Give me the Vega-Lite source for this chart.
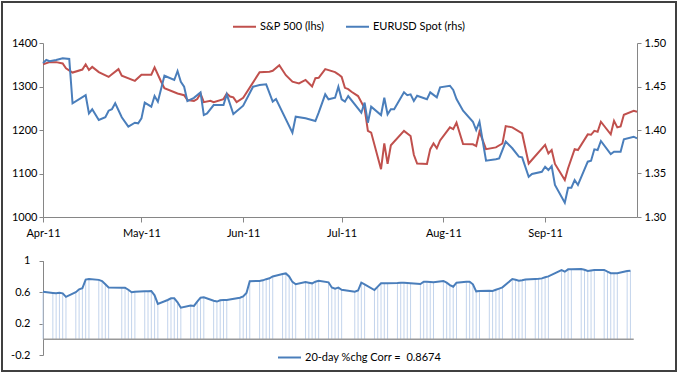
{
  "$schema": "https://vega.github.io/schema/vega-lite/v6.json",
  "width": 674,
  "height": 369,
  "autosize": "none",
  "padding": {"left": 2, "top": 2, "right": 4, "bottom": 4},
  "background": "white",
  "config": {
    "view": {"stroke": "#404040", "strokeWidth": 2, "fill": "white"},
    "axis": {"labelFont": "Lato", "labelFontSize": 11, "labelColor": "#000000", "domainColor": "#868686", "tickColor": "#868686", "grid": false},
    "legend": {"labelFont": "Lato", "labelFontSize": 11, "labelColor": "#000000"},
    "line": {"strokeWidth": 2}
  },
  "datasets": {
    "spx": [
      {"date": "2011-04-01", "spx": 1351}, {"date": "2011-04-03", "spx": 1356}, {"date": "2011-04-05", "spx": 1356}, {"date": "2011-04-07", "spx": 1353}, {"date": "2011-04-08", "spx": 1342}, {"date": "2011-04-10", "spx": 1332}, {"date": "2011-04-13", "spx": 1339}, {"date": "2011-04-14", "spx": 1351}, {"date": "2011-04-15", "spx": 1338}, {"date": "2011-04-16", "spx": 1345}, {"date": "2011-04-18", "spx": 1333}, {"date": "2011-04-21", "spx": 1322}, {"date": "2011-04-22", "spx": 1328}, {"date": "2011-04-24", "spx": 1340}, {"date": "2011-04-25", "spx": 1325}, {"date": "2011-04-29", "spx": 1313},
      {"date": "2011-05-01", "spx": 1327}, {"date": "2011-05-04", "spx": 1327}, {"date": "2011-05-05", "spx": 1344}, {"date": "2011-05-07", "spx": 1311}, {"date": "2011-05-08", "spx": 1296}, {"date": "2011-05-12", "spx": 1284}, {"date": "2011-05-14", "spx": 1280}, {"date": "2011-05-15", "spx": 1269}, {"date": "2011-05-17", "spx": 1267}, {"date": "2011-05-18", "spx": 1271}, {"date": "2011-05-19", "spx": 1284}, {"date": "2011-05-20", "spx": 1264}, {"date": "2011-05-22", "spx": 1267}, {"date": "2011-05-23", "spx": 1264}, {"date": "2011-05-26", "spx": 1271}, {"date": "2011-05-27", "spx": 1284}, {"date": "2011-05-28", "spx": 1277}, {"date": "2011-05-29", "spx": 1275}, {"date": "2011-05-30", "spx": 1264},
      {"date": "2011-06-01", "spx": 1274}, {"date": "2011-06-06", "spx": 1333}, {"date": "2011-06-09", "spx": 1334}, {"date": "2011-06-10", "spx": 1336}, {"date": "2011-06-12", "spx": 1349}, {"date": "2011-06-14", "spx": 1326}, {"date": "2011-06-16", "spx": 1311}, {"date": "2011-06-18", "spx": 1307}, {"date": "2011-06-20", "spx": 1315}, {"date": "2011-06-22", "spx": 1300}, {"date": "2011-06-23", "spx": 1319}, {"date": "2011-06-24", "spx": 1320}, {"date": "2011-06-26", "spx": 1340}, {"date": "2011-06-29", "spx": 1333}, {"date": "2011-06-30", "spx": 1328},
      {"date": "2011-07-01", "spx": 1322}, {"date": "2011-07-02", "spx": 1297}, {"date": "2011-07-03", "spx": 1294}, {"date": "2011-07-04", "spx": 1288}, {"date": "2011-07-06", "spx": 1278}, {"date": "2011-07-08", "spx": 1250}, {"date": "2011-07-09", "spx": 1198}, {"date": "2011-07-10", "spx": 1194}, {"date": "2011-07-13", "spx": 1110}, {"date": "2011-07-14", "spx": 1169}, {"date": "2011-07-15", "spx": 1122}, {"date": "2011-07-16", "spx": 1165}, {"date": "2011-07-20", "spx": 1198}, {"date": "2011-07-22", "spx": 1186}, {"date": "2011-07-23", "spx": 1143}, {"date": "2011-07-24", "spx": 1123}, {"date": "2011-07-27", "spx": 1122}, {"date": "2011-07-28", "spx": 1156}, {"date": "2011-07-29", "spx": 1169}, {"date": "2011-07-30", "spx": 1158}, {"date": "2011-07-31", "spx": 1176},
      {"date": "2011-08-03", "spx": 1206}, {"date": "2011-08-04", "spx": 1202}, {"date": "2011-08-05", "spx": 1217}, {"date": "2011-08-07", "spx": 1168}, {"date": "2011-08-10", "spx": 1167}, {"date": "2011-08-11", "spx": 1163}, {"date": "2011-08-12", "spx": 1196}, {"date": "2011-08-14", "spx": 1156}, {"date": "2011-08-17", "spx": 1160}, {"date": "2011-08-19", "spx": 1169}, {"date": "2011-08-20", "spx": 1209}, {"date": "2011-08-22", "spx": 1206}, {"date": "2011-08-25", "spx": 1192}, {"date": "2011-08-27", "spx": 1123},
      {"date": "2011-09-01", "spx": 1166}, {"date": "2011-09-02", "spx": 1146}, {"date": "2011-09-03", "spx": 1154}, {"date": "2011-09-04", "spx": 1122}, {"date": "2011-09-07", "spx": 1085}, {"date": "2011-09-08", "spx": 1112}, {"date": "2011-09-10", "spx": 1156}, {"date": "2011-09-11", "spx": 1154}, {"date": "2011-09-14", "spx": 1190}, {"date": "2011-09-15", "spx": 1189}, {"date": "2011-09-16", "spx": 1198}, {"date": "2011-09-17", "spx": 1196}, {"date": "2011-09-18", "spx": 1219}, {"date": "2011-09-21", "spx": 1190}, {"date": "2011-09-22", "spx": 1221}, {"date": "2011-09-23", "spx": 1206}, {"date": "2011-09-24", "spx": 1208}, {"date": "2011-09-25", "spx": 1235}, {"date": "2011-09-28", "spx": 1244}, {"date": "2011-09-29", "spx": 1242}
    ],
    "eur": [
      {"date": "2011-04-01", "eur": 1.477}, {"date": "2011-04-02", "eur": 1.4805}, {"date": "2011-04-03", "eur": 1.479}, {"date": "2011-04-05", "eur": 1.4805}, {"date": "2011-04-07", "eur": 1.4824}, {"date": "2011-04-09", "eur": 1.4816}, {"date": "2011-04-10", "eur": 1.4307}, {"date": "2011-04-14", "eur": 1.44}, {"date": "2011-04-15", "eur": 1.419}, {"date": "2011-04-16", "eur": 1.4238}, {"date": "2011-04-18", "eur": 1.4115}, {"date": "2011-04-20", "eur": 1.4146}, {"date": "2011-04-21", "eur": 1.4222}, {"date": "2011-04-22", "eur": 1.4238}, {"date": "2011-04-23", "eur": 1.4307}, {"date": "2011-04-25", "eur": 1.4146}, {"date": "2011-04-27", "eur": 1.4038}, {"date": "2011-04-29", "eur": 1.4084}, {"date": "2011-04-30", "eur": 1.4077},
      {"date": "2011-05-01", "eur": 1.4134}, {"date": "2011-05-02", "eur": 1.4314}, {"date": "2011-05-04", "eur": 1.4268}, {"date": "2011-05-05", "eur": 1.439}, {"date": "2011-05-06", "eur": 1.4326}, {"date": "2011-05-08", "eur": 1.4624}, {"date": "2011-05-11", "eur": 1.4575}, {"date": "2011-05-12", "eur": 1.4678}, {"date": "2011-05-13", "eur": 1.4555}, {"date": "2011-05-14", "eur": 1.4498}, {"date": "2011-05-15", "eur": 1.4333}, {"date": "2011-05-17", "eur": 1.437}, {"date": "2011-05-19", "eur": 1.4433}, {"date": "2011-05-20", "eur": 1.4172}, {"date": "2011-05-21", "eur": 1.419}, {"date": "2011-05-23", "eur": 1.4287}, {"date": "2011-05-26", "eur": 1.4287}, {"date": "2011-05-27", "eur": 1.441}, {"date": "2011-05-29", "eur": 1.4184},
      {"date": "2011-06-01", "eur": 1.428}, {"date": "2011-06-04", "eur": 1.4498}, {"date": "2011-06-06", "eur": 1.4517}, {"date": "2011-06-08", "eur": 1.4525}, {"date": "2011-06-10", "eur": 1.4326}, {"date": "2011-06-11", "eur": 1.4356}, {"date": "2011-06-16", "eur": 1.3969}, {"date": "2011-06-17", "eur": 1.4153}, {"date": "2011-06-20", "eur": 1.4134}, {"date": "2011-06-23", "eur": 1.4103}, {"date": "2011-06-24", "eur": 1.4199}, {"date": "2011-06-26", "eur": 1.441}, {"date": "2011-06-27", "eur": 1.4353}, {"date": "2011-06-29", "eur": 1.4371}, {"date": "2011-06-30", "eur": 1.4498},
      {"date": "2011-07-01", "eur": 1.4353}, {"date": "2011-07-02", "eur": 1.4326}, {"date": "2011-07-03", "eur": 1.439}, {"date": "2011-07-07", "eur": 1.4199}, {"date": "2011-07-08", "eur": 1.4314}, {"date": "2011-07-09", "eur": 1.4084}, {"date": "2011-07-10", "eur": 1.4268}, {"date": "2011-07-13", "eur": 1.4172}, {"date": "2011-07-14", "eur": 1.4371}, {"date": "2011-07-15", "eur": 1.418}, {"date": "2011-07-16", "eur": 1.4238}, {"date": "2011-07-17", "eur": 1.4238}, {"date": "2011-07-20", "eur": 1.4433}, {"date": "2011-07-21", "eur": 1.44}, {"date": "2011-07-22", "eur": 1.441}, {"date": "2011-07-23", "eur": 1.4333}, {"date": "2011-07-24", "eur": 1.4394}, {"date": "2011-07-27", "eur": 1.4353}, {"date": "2011-07-28", "eur": 1.4433}, {"date": "2011-07-30", "eur": 1.4376}, {"date": "2011-07-31", "eur": 1.449},
      {"date": "2011-08-03", "eur": 1.4509}, {"date": "2011-08-04", "eur": 1.446}, {"date": "2011-08-05", "eur": 1.4356}, {"date": "2011-08-07", "eur": 1.4222}, {"date": "2011-08-10", "eur": 1.4095}, {"date": "2011-08-11", "eur": 1.4}, {"date": "2011-08-12", "eur": 1.4095}, {"date": "2011-08-14", "eur": 1.3647}, {"date": "2011-08-17", "eur": 1.3663}, {"date": "2011-08-18", "eur": 1.3674}, {"date": "2011-08-20", "eur": 1.3866}, {"date": "2011-08-22", "eur": 1.379}, {"date": "2011-08-24", "eur": 1.3693}, {"date": "2011-08-25", "eur": 1.3686}, {"date": "2011-08-27", "eur": 1.3463}, {"date": "2011-08-28", "eur": 1.3494}, {"date": "2011-08-31", "eur": 1.352},
      {"date": "2011-09-01", "eur": 1.3578}, {"date": "2011-09-02", "eur": 1.354}, {"date": "2011-09-03", "eur": 1.3586}, {"date": "2011-09-04", "eur": 1.3368}, {"date": "2011-09-07", "eur": 1.3164}, {"date": "2011-09-08", "eur": 1.3337}, {"date": "2011-09-09", "eur": 1.3337}, {"date": "2011-09-10", "eur": 1.3425}, {"date": "2011-09-11", "eur": 1.3368}, {"date": "2011-09-14", "eur": 1.3636}, {"date": "2011-09-15", "eur": 1.3647}, {"date": "2011-09-16", "eur": 1.3778}, {"date": "2011-09-17", "eur": 1.377}, {"date": "2011-09-18", "eur": 1.3874}, {"date": "2011-09-21", "eur": 1.3724}, {"date": "2011-09-22", "eur": 1.375}, {"date": "2011-09-24", "eur": 1.375}, {"date": "2011-09-25", "eur": 1.3893}, {"date": "2011-09-28", "eur": 1.3923}, {"date": "2011-09-29", "eur": 1.3904}
    ],
    "corr": [
      {"date": "2011-04-01", "corr": 0.606}, {"date": "2011-04-04", "corr": 0.59}, {"date": "2011-04-05", "corr": 0.585}, {"date": "2011-04-06", "corr": 0.593}, {"date": "2011-04-07", "corr": 0.585}, {"date": "2011-04-08", "corr": 0.54}, {"date": "2011-04-11", "corr": 0.6}, {"date": "2011-04-12", "corr": 0.636}, {"date": "2011-04-13", "corr": 0.649}, {"date": "2011-04-14", "corr": 0.76}, {"date": "2011-04-15", "corr": 0.767}, {"date": "2011-04-18", "corr": 0.756}, {"date": "2011-04-19", "corr": 0.74}, {"date": "2011-04-20", "corr": 0.7}, {"date": "2011-04-21", "corr": 0.66}, {"date": "2011-04-25", "corr": 0.655}, {"date": "2011-04-26", "corr": 0.657}, {"date": "2011-04-27", "corr": 0.63}, {"date": "2011-04-28", "corr": 0.598}, {"date": "2011-04-29", "corr": 0.606},
      {"date": "2011-05-02", "corr": 0.61}, {"date": "2011-05-03", "corr": 0.612}, {"date": "2011-05-04", "corr": 0.615}, {"date": "2011-05-05", "corr": 0.56}, {"date": "2011-05-06", "corr": 0.45}, {"date": "2011-05-09", "corr": 0.5}, {"date": "2011-05-10", "corr": 0.521}, {"date": "2011-05-11", "corr": 0.521}, {"date": "2011-05-12", "corr": 0.47}, {"date": "2011-05-13", "corr": 0.402}, {"date": "2011-05-16", "corr": 0.43}, {"date": "2011-05-17", "corr": 0.424}, {"date": "2011-05-18", "corr": 0.48}, {"date": "2011-05-19", "corr": 0.53}, {"date": "2011-05-20", "corr": 0.535}, {"date": "2011-05-23", "corr": 0.49}, {"date": "2011-05-24", "corr": 0.48}, {"date": "2011-05-25", "corr": 0.497}, {"date": "2011-05-26", "corr": 0.5}, {"date": "2011-05-27", "corr": 0.5}, {"date": "2011-05-31", "corr": 0.529},
      {"date": "2011-06-01", "corr": 0.545}, {"date": "2011-06-02", "corr": 0.59}, {"date": "2011-06-03", "corr": 0.74}, {"date": "2011-06-06", "corr": 0.742}, {"date": "2011-06-07", "corr": 0.75}, {"date": "2011-06-08", "corr": 0.765}, {"date": "2011-06-09", "corr": 0.776}, {"date": "2011-06-10", "corr": 0.8}, {"date": "2011-06-13", "corr": 0.83}, {"date": "2011-06-14", "corr": 0.838}, {"date": "2011-06-15", "corr": 0.8}, {"date": "2011-06-16", "corr": 0.73}, {"date": "2011-06-17", "corr": 0.7}, {"date": "2011-06-20", "corr": 0.728}, {"date": "2011-06-21", "corr": 0.72}, {"date": "2011-06-22", "corr": 0.712}, {"date": "2011-06-23", "corr": 0.733}, {"date": "2011-06-24", "corr": 0.745}, {"date": "2011-06-27", "corr": 0.725}, {"date": "2011-06-28", "corr": 0.66}, {"date": "2011-06-29", "corr": 0.645}, {"date": "2011-06-30", "corr": 0.657},
      {"date": "2011-07-01", "corr": 0.63}, {"date": "2011-07-05", "corr": 0.605}, {"date": "2011-07-06", "corr": 0.62}, {"date": "2011-07-07", "corr": 0.72}, {"date": "2011-07-08", "corr": 0.7}, {"date": "2011-07-11", "corr": 0.627}, {"date": "2011-07-12", "corr": 0.67}, {"date": "2011-07-13", "corr": 0.712}, {"date": "2011-07-14", "corr": 0.713}, {"date": "2011-07-15", "corr": 0.714}, {"date": "2011-07-18", "corr": 0.716}, {"date": "2011-07-19", "corr": 0.72}, {"date": "2011-07-20", "corr": 0.718}, {"date": "2011-07-21", "corr": 0.716}, {"date": "2011-07-22", "corr": 0.714}, {"date": "2011-07-25", "corr": 0.704}, {"date": "2011-07-26", "corr": 0.733}, {"date": "2011-07-27", "corr": 0.731}, {"date": "2011-07-28", "corr": 0.728}, {"date": "2011-07-29", "corr": 0.725},
      {"date": "2011-08-01", "corr": 0.742}, {"date": "2011-08-02", "corr": 0.72}, {"date": "2011-08-03", "corr": 0.69}, {"date": "2011-08-04", "corr": 0.669}, {"date": "2011-08-05", "corr": 0.72}, {"date": "2011-08-08", "corr": 0.733}, {"date": "2011-08-09", "corr": 0.733}, {"date": "2011-08-10", "corr": 0.7}, {"date": "2011-08-11", "corr": 0.61}, {"date": "2011-08-12", "corr": 0.615}, {"date": "2011-08-15", "corr": 0.618}, {"date": "2011-08-16", "corr": 0.615}, {"date": "2011-08-17", "corr": 0.63}, {"date": "2011-08-18", "corr": 0.645}, {"date": "2011-08-19", "corr": 0.661}, {"date": "2011-08-22", "corr": 0.767}, {"date": "2011-08-23", "corr": 0.757}, {"date": "2011-08-24", "corr": 0.746}, {"date": "2011-08-25", "corr": 0.752}, {"date": "2011-08-26", "corr": 0.76}, {"date": "2011-08-29", "corr": 0.767}, {"date": "2011-08-30", "corr": 0.77}, {"date": "2011-08-31", "corr": 0.775},
      {"date": "2011-09-01", "corr": 0.79}, {"date": "2011-09-02", "corr": 0.8}, {"date": "2011-09-06", "corr": 0.88}, {"date": "2011-09-07", "corr": 0.86}, {"date": "2011-09-08", "corr": 0.89}, {"date": "2011-09-09", "corr": 0.89}, {"date": "2011-09-12", "corr": 0.894}, {"date": "2011-09-13", "corr": 0.885}, {"date": "2011-09-14", "corr": 0.869}, {"date": "2011-09-15", "corr": 0.876}, {"date": "2011-09-16", "corr": 0.882}, {"date": "2011-09-19", "corr": 0.882}, {"date": "2011-09-20", "corr": 0.86}, {"date": "2011-09-21", "corr": 0.84}, {"date": "2011-09-22", "corr": 0.84}, {"date": "2011-09-23", "corr": 0.84}, {"date": "2011-09-26", "corr": 0.87}, {"date": "2011-09-27", "corr": 0.873}
    ],
    "base": [
      {"date": "2011-04-01", "v": 0}, {"date": "2011-09-28", "v": 0}
    ]
  },
  "resolve": {"scale": {"y": "independent"}, "axis": {"y": "independent"}},
  "layer": [
    {
      "data": {"name": "corr"},
      "mark": {"type": "rule", "color": "#c3d4ec", "strokeWidth": 1},
      "encoding": {
        "x": {"field": "date", "type": "temporal", "title": null,
              "scale": {"type": "utc", "domain": [{"year": 2011, "month": 4, "date": 1, "utc": true}, {"year": 2011, "month": 9, "date": 29, "utc": true}], "range": [41, 635]}},
        "y": {"field": "corr", "type": "quantitative", "title": null,
              "scale": {"domain": [-0.2, 1], "range": [353, 258.7]},
              "axis": {"orient": "left", "offset": -41, "values": [-0.2, 0.2, 0.6, 1], "labelExpr": "datum.value + ''", "tickSize": 4, "labelPadding": 9, "title": null}},
        "y2": {"datum": 0}
      }
    },
    {
      "data": {"name": "base"},
      "mark": {"type": "line", "color": "#999999", "strokeWidth": 1.5},
      "encoding": {
        "x": {"field": "date", "type": "temporal", "title": null,
              "scale": {"type": "utc", "domain": [{"year": 2011, "month": 4, "date": 1, "utc": true}, {"year": 2011, "month": 9, "date": 29, "utc": true}], "range": [41, 635]}},
        "y": {"field": "v", "type": "quantitative", "scale": {"domain": [-0.2, 1], "range": [353, 258.7]}, "axis": null}
      }
    },
    {
      "data": {"name": "corr"},
      "mark": {"type": "line", "strokeWidth": 2},
      "encoding": {
        "x": {"field": "date", "type": "temporal", "title": null,
              "scale": {"type": "utc", "domain": [{"year": 2011, "month": 4, "date": 1, "utc": true}, {"year": 2011, "month": 9, "date": 29, "utc": true}], "range": [41, 635]}},
        "y": {"field": "corr", "type": "quantitative", "scale": {"domain": [-0.2, 1], "range": [353, 258.7]}, "axis": null},
        "stroke": {"datum": "20-day %chg Corr = \u00a00.8674", "type": "nominal",
                   "scale": {"range": ["#4a7ebb"]},
                   "legend": {"orient": "none", "legendX": 275, "legendY": 343, "title": null, "symbolType": "stroke", "symbolSize": 529, "symbolStrokeWidth": 2, "labelOffset": 3, "padding": 0}}
      }
    },
    {
      "data": {"name": "spx"},
      "mark": {"type": "line", "strokeWidth": 2},
      "encoding": {
        "x": {"field": "date", "type": "temporal", "title": null,
              "scale": {"type": "utc", "domain": [{"year": 2011, "month": 4, "date": 1, "utc": true}, {"year": 2011, "month": 9, "date": 29, "utc": true}], "range": [41, 635]},
              "axis": {"orient": "bottom", "offset": -154, "format": "%b-%y", "labelFlush": false, "labelOverlap": false, "tickSize": 5, "labelPadding": 5,
                       "values": [{"year": 2011, "month": 4, "date": 1, "utc": true}, {"year": 2011, "month": 5, "date": 1, "utc": true}, {"year": 2011, "month": 6, "date": 1, "utc": true}, {"year": 2011, "month": 7, "date": 1, "utc": true}, {"year": 2011, "month": 8, "date": 1, "utc": true}, {"year": 2011, "month": 9, "date": 1, "utc": true}], "title": null}},
        "y": {"field": "spx", "type": "quantitative", "title": null,
              "scale": {"domain": [1000, 1400], "range": [215, 41]},
              "axis": {"orient": "left", "offset": -41, "values": [1000, 1100, 1200, 1300, 1400], "format": "d", "tickSize": 4, "labelPadding": 2, "title": null}},
        "color": {"datum": "S&P 500 (lhs)", "type": "nominal",
                  "scale": {"domain": ["S&P 500 (lhs)", "EURUSD Spot (rhs)"], "range": ["#c0504d", "#4a7ebb"]},
                  "legend": {"orient": "none", "legendX": 230, "legendY": 12, "direction": "horizontal", "title": null, "symbolType": "stroke", "symbolSize": 529, "symbolStrokeWidth": 2, "labelOffset": 3, "columnPadding": 17, "padding": 0}}
      }
    },
    {
      "data": {"name": "eur"},
      "mark": {"type": "line", "strokeWidth": 2},
      "encoding": {
        "x": {"field": "date", "type": "temporal", "title": null,
              "scale": {"type": "utc", "domain": [{"year": 2011, "month": 4, "date": 1, "utc": true}, {"year": 2011, "month": 9, "date": 29, "utc": true}], "range": [41, 635]}},
        "y": {"field": "eur", "type": "quantitative", "title": null,
              "scale": {"domain": [1.3, 1.5], "range": [215, 41]},
              "axis": {"orient": "right", "offset": -39, "values": [1.3, 1.35, 1.4, 1.45, 1.5], "format": ".2f", "tickSize": 4, "labelPadding": 3, "title": null}},
        "color": {"datum": "EURUSD Spot (rhs)", "type": "nominal"}
      }
    }
  ]
}
